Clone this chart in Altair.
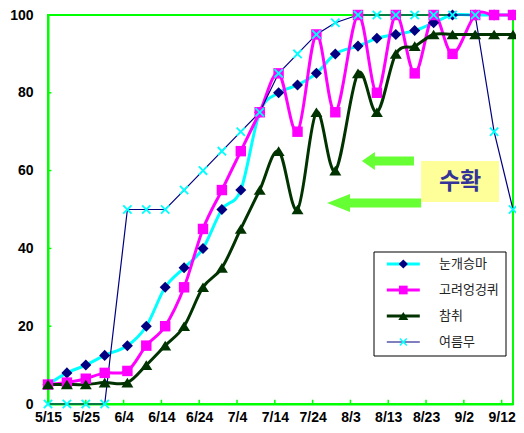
import altair as alt
import pandas as pd

# ---------------- data ----------------
dates = ["2007-05-15", "2007-05-20", "2007-05-25", "2007-05-30", "2007-06-05",
         "2007-06-10", "2007-06-15", "2007-06-20", "2007-06-25", "2007-06-30",
         "2007-07-05", "2007-07-10", "2007-07-15", "2007-07-20", "2007-07-25",
         "2007-07-30", "2007-08-05", "2007-08-10", "2007-08-15", "2007-08-20",
         "2007-08-25", "2007-08-30", "2007-09-05", "2007-09-10", "2007-09-15"]
series_names = ["눈개승마", "고려엉겅퀴", "참취", "여름무"]
marker_keys = ["m1", "m2", "m3", "m4"]   # keys of the marker legend (one per series)
nungaeseungma = [5, 8, 10, 12.5, 15, 20, 30, 35, 40, 50, 55, 75, 80, 82, 85, 90, 92, 94, 95, 96, 98, 100, 100, 100, 100]
goryeoeonggeongkwi = [5, 5.5, 6.5, 8, 8.5, 15, 20, 30, 45, 55, 65, 75, 85, 70, 95, 75, 100, 80, 100, 85, 100, 90, 100, 100, 100]
chamchwi = [5, 5, 5, 5.5, 5.5, 10, 15, 20, 30, 35, 45, 55, 65, 50, 75, 60, 85, 75, 90, 92, 95, 95, 95, 95, 95]
yeoreummu = [0, 0, 0, 0, 50, 50, 50, 55, 60, 65, 70, 75, 85, 90, 95, 98, 100, 100, 100, 100, 100, 100, 100, 70, 50]
tick_dates = ["2007-05-15", "2007-05-25", "2007-06-04", "2007-06-14", "2007-06-24",
              "2007-07-04", "2007-07-14", "2007-07-24", "2007-08-03", "2007-08-13",
              "2007-08-23", "2007-09-02", "2007-09-12"]
y_ticks = [0, 20, 40, 60, 80, 100]
x_start, x_end = "2007-05-15", "2007-09-15"
annotation_text = "수확"

# ---------------- styles ----------------
line_colors = ["#00FFFF", "#FF00FF", "#003300", "#000080"]
line_widths = [3, 3, 3, 1.2]
marker_colors = ["#000080", "#FF00FF", "#003300", "#00FFFF"]
X_PATH = ("M-0.8,-0.58L-0.58,-0.8L0,-0.22L0.58,-0.8L0.8,-0.58L0.22,0L0.8,0.58"
          "L0.58,0.8L0,0.22L-0.58,0.8L-0.8,0.58L-0.22,0Z")
marker_shapes = ["M0,-0.92L0.92,0L0,0.92L-0.92,0Z",
                 "M-0.87,-0.87H0.87V0.87H-0.87Z",
                 "M0,-0.8L1,0.8L-1,0.8Z",
                 X_PATH]
GREEN = "#00FF00"
ARROW = "#66FF33"

DAY = 86400000


def ms(s):
    return int(pd.Timestamp(s, tz="UTC").value // 10**6)


X0 = ms(x_start)


def at_day(d):
    return X0 + d * DAY


rows = []
for name, key, vals in zip(series_names, marker_keys,
                           [nungaeseungma, goryeoeonggeongkwi, chamchwi, yeoreummu]):
    for d, v in zip(dates, vals):
        rows.append({"date": ms(d), "series": name, "marker": key, "value": v})
df = pd.DataFrame(rows)

x_scale = alt.Scale(type="utc", domain=[ms(x_start), ms(x_end)])
y_scale = alt.Scale(domain=[0, 100], nice=False)

x_axis = alt.Axis(values=[ms(t) for t in tick_dates],
                  labelExpr="utcFormat(datum.value, '%-m/%-d')",
                  ticks=False, grid=False, domainColor=GREEN, domainWidth=2,
                  labelPadding=6, title=None, labelFlush=False, labelOverlap=False)
y_axis = alt.Axis(values=y_ticks, ticks=False, grid=False, domainColor=GREEN,
                  domainWidth=2, labelPadding=15, title=None, labelFlush=False)


def X(field):
    return alt.X(field, scale=x_scale, axis=x_axis)


def Y(field):
    return alt.Y(field, scale=y_scale, axis=y_axis)


LEG_X, LEG_Y = 325.5, 236.5
line_legend = alt.Legend(orient="none", legendX=LEG_X, legendY=LEG_Y, direction="vertical",
                         title=None, symbolType="M-3.3,0H3.3", symbolSize=100,
                         symbolOffset=17.3, labelOffset=29.2, labelFont="Noto Sans CJK KR",
                         labelFontSize=13, labelColor="#222222", padding=6, rowPadding=12,
                         strokeColor="black", labelLimit=300, zindex=1)
# marker part of the legend: drawn on top of the line legend, same rows, no label text
marker_legend = alt.Legend(orient="none", legendX=LEG_X, legendY=LEG_Y, direction="vertical",
                           title=None, symbolSize=100, symbolStrokeWidth=0,
                           symbolOffset=17.3, labelOffset=29.2, labelFont="Noto Sans CJK KR",
                           labelFontSize=13, labelExpr="''", padding=6, rowPadding=12,
                           zindex=2)

stroke_enc = alt.Stroke("series:N", scale=alt.Scale(domain=series_names, range=line_colors),
                        legend=line_legend)
sw_enc = alt.StrokeWidth("series:N", scale=alt.Scale(type="ordinal", domain=series_names,
                                                      range=line_widths), legend=line_legend)

base = alt.Chart(df).encode(x=X("date:T"), y=Y("value:Q"))

smooth_lines = base.transform_filter(alt.datum.series != "여름무").mark_line(
    interpolate="cardinal").encode(stroke=stroke_enc, strokeWidth=sw_enc,
                                   detail="series:N")
straight_line = base.transform_filter(alt.datum.series == "여름무").mark_line().encode(
    stroke=stroke_enc, strokeWidth=sw_enc)

points = base.mark_point(filled=True, size=144, opacity=1, strokeWidth=0).encode(
    color=alt.Color("marker:N", scale=alt.Scale(domain=marker_keys, range=marker_colors),
                    legend=marker_legend),
    shape=alt.Shape("marker:N", scale=alt.Scale(domain=marker_keys, range=marker_shapes),
                    legend=marker_legend),
)

# inward tick marks
xt = pd.DataFrame({"x": [ms(t) for t in tick_dates[1:]], "y": 0, "y2": 1.1})
x_ticks = alt.Chart(xt).mark_rule(color=GREEN, strokeWidth=1.5).encode(
    x=X("x:T"), y=Y("y:Q"), y2="y2:Q")
yt = pd.DataFrame({"x": X0, "x2": at_day(0.9), "y": y_ticks[1:-1]})
y_ticks_m = alt.Chart(yt).mark_rule(color=GREEN, strokeWidth=1.5).encode(
    x=X("x:T"), x2="x2:T", y=Y("y:Q"))

# annotation: yellow box, text and two arrows
box_df = pd.DataFrame({"x": [at_day(98.7)], "x2": [at_day(119.3)],
                       "y": [51.9], "y2": [62.5], "label": [annotation_text],
                       "xc": [at_day(109.0)], "yc": [57.1]})
box = alt.Chart(box_df).mark_rect(color="#FFFF99").encode(
    x=X("x:T"), x2="x2:T", y=Y("y:Q"), y2="y2:Q")
box_text = alt.Chart(box_df).mark_text(font="Noto Sans CJK KR", fontWeight="bold",
                                       fontSize=23, color="#333399").encode(
    x=X("xc:T"), y=Y("yc:Q"), text="label:N")

shaft_df = pd.DataFrame({"x": [at_day(86.0), at_day(79.5)],
                         "x2": [at_day(96.8), at_day(98.7)],
                         "y": [62.5, 51.7]})
shafts = alt.Chart(shaft_df).mark_rule(color=ARROW, strokeWidth=9, strokeCap="butt").encode(
    x=X("x:T"), x2="x2:T", y=Y("y:Q"))
head1 = alt.Chart(pd.DataFrame({"x": [at_day(85.4)], "y": [62.5]})).mark_point(
    shape="M-1,0L0.45,-1L0.45,1Z", size=324, filled=True, color=ARROW, opacity=1,
    strokeWidth=0).encode(x=X("x:T"), y=Y("y:Q"))
head2 = alt.Chart(pd.DataFrame({"x": [at_day(76.2)], "y": [51.7]})).mark_point(
    shape="M-1,0L1.55,-1L1.55,1Z", size=324, filled=True, color=ARROW, opacity=1,
    strokeWidth=0).encode(x=X("x:T"), y=Y("y:Q"))

chart = alt.layer(
    smooth_lines, straight_line, points, x_ticks, y_ticks_m,
    shafts, head1, head2, box, box_text
).properties(
    width=465, height=389,
    autosize=alt.AutoSizeParams(type="none"),
    padding={"left": 40, "top": 7, "right": 3, "bottom": 21},
    background="white",
).configure_view(
    stroke=GREEN, strokeWidth=2
).configure_axis(
    labelFont="Liberation Sans", labelFontSize=14, labelFontWeight="bold", labelColor="#000000"
)

chart.save("out.html", embed_options={"renderer": "svg", "actions": False})
